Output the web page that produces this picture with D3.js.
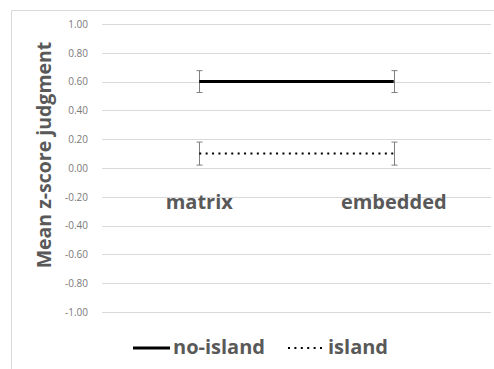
<!DOCTYPE html>
<html><head><meta charset="utf-8">
<script src="https://cdn.jsdelivr.net/npm/d3@7"></script>
<style>body{margin:0;background:#fff}svg{display:block}</style>
</head><body>
<script>
const categories = ["matrix", "embedded"];
const seriesNames = ["no-island", "island"];
const noIsland = [0.60, 0.60];
const island = [0.10, 0.10];
const noIslandErr = [0.076, 0.076];
const islandErr = [0.08, 0.08];
const yTicks = [1, 0.8, 0.6, 0.4, 0.2, 0, -0.2, -0.4, -0.6, -0.8, -1];

const W = 494, H = 369;
const svg = d3.select("body").append("svg").attr("width", W).attr("height", H);
const font = "'Open Sans', 'Segoe UI', sans-serif";
const gray = "#595959";

// chart border
svg.append("path").attr("d", `M11.5,${H} V10.5 H${W}`).attr("fill", "none").attr("stroke", "#d9d9d9");

const x = d3.scaleBand().domain(categories).range([102, 491]);
const y = d3.scaleLinear().domain([-1, 1]).range([312, 24]);

// gridlines
svg.append("g").selectAll("line").data(yTicks).join("line")
  .attr("x1", 102).attr("x2", 491)
  .attr("y1", d => Math.round(y(d)) + 0.5).attr("y2", d => Math.round(y(d)) + 0.5)
  .attr("stroke", "#d9d9d9").attr("stroke-width", 1);

// y axis labels
const fmt = d3.format(".2f");
const yAxis = d3.axisLeft(y).tickValues(yTicks).tickFormat(d => fmt(d).replace("\u2212", "-")).tickSize(0).tickPadding(0);
const ga = svg.append("g").attr("transform", "translate(88,0)").call(yAxis);
ga.select(".domain").remove();
ga.selectAll("text").attr("font-family", font).attr("font-size", 10).attr("fill", "#7a7a7a").attr("dy", "0.32em");

// y title
svg.append("text").attr("transform", "translate(50.5,155) rotate(-90)")
  .attr("text-anchor", "middle").attr("font-family", font).attr("font-weight", "bold")
  .attr("font-size", 19.5).attr("fill", gray).text("Mean z-score judgment");

// category labels
svg.append("g").selectAll("text").data(categories).join("text")
  .attr("x", d => x(d) + x.bandwidth() / 2).attr("y", 209)
  .attr("text-anchor", "middle").attr("font-family", font).attr("font-weight", "bold")
  .attr("font-size", 20).attr("fill", gray).text(d => d);

const series = [
  {name: seriesNames[0], vals: noIsland, err: noIslandErr, width: 3, dash: null},
  {name: seriesNames[1], vals: island, err: islandErr, width: 2, dash: "2,4.4"}
];
const cx = c => x(c) + x.bandwidth() / 2;

series.forEach(s => {
  const pts = categories.map((c, i) => [cx(c), y(s.vals[i])]);
  // error bars
  categories.forEach((c, i) => {
    const g = svg.append("g").attr("stroke", "#7f7f7f").attr("stroke-width", 1);
    const xx = Math.round(cx(c)) + 0.5;
    const y1 = y(s.vals[i] + s.err[i]), y2 = y(s.vals[i] - s.err[i]);
    g.append("line").attr("x1", xx).attr("x2", xx).attr("y1", y1).attr("y2", y2);
    g.append("line").attr("x1", xx - 3).attr("x2", xx + 3).attr("y1", y1).attr("y2", y1);
    g.append("line").attr("x1", xx - 3).attr("x2", xx + 3).attr("y1", y2).attr("y2", y2);
  });
  svg.append("path").attr("d", d3.line()(pts)).attr("fill", "none")
    .attr("stroke", "#000").attr("stroke-width", s.width)
    .attr("stroke-dasharray", s.dash);
});

// legend
const leg = [
  {name: seriesNames[0], x1: 133, x2: 170, tx: 173, width: 3, dash: null},
  {name: seriesNames[1], x1: 288, x2: 323, tx: 328, width: 2, dash: "2,4.4"}
];
leg.forEach(l => {
  svg.append("line").attr("x1", l.x1).attr("x2", l.x2).attr("y1", 348).attr("y2", 348)
    .attr("stroke", "#000").attr("stroke-width", l.width).attr("stroke-dasharray", l.dash);
  svg.append("text").attr("x", l.tx).attr("y", 354).attr("font-family", font)
    .attr("font-weight", "bold").attr("font-size", 20).attr("fill", gray).text(l.name);
});
</script>
</body></html>
